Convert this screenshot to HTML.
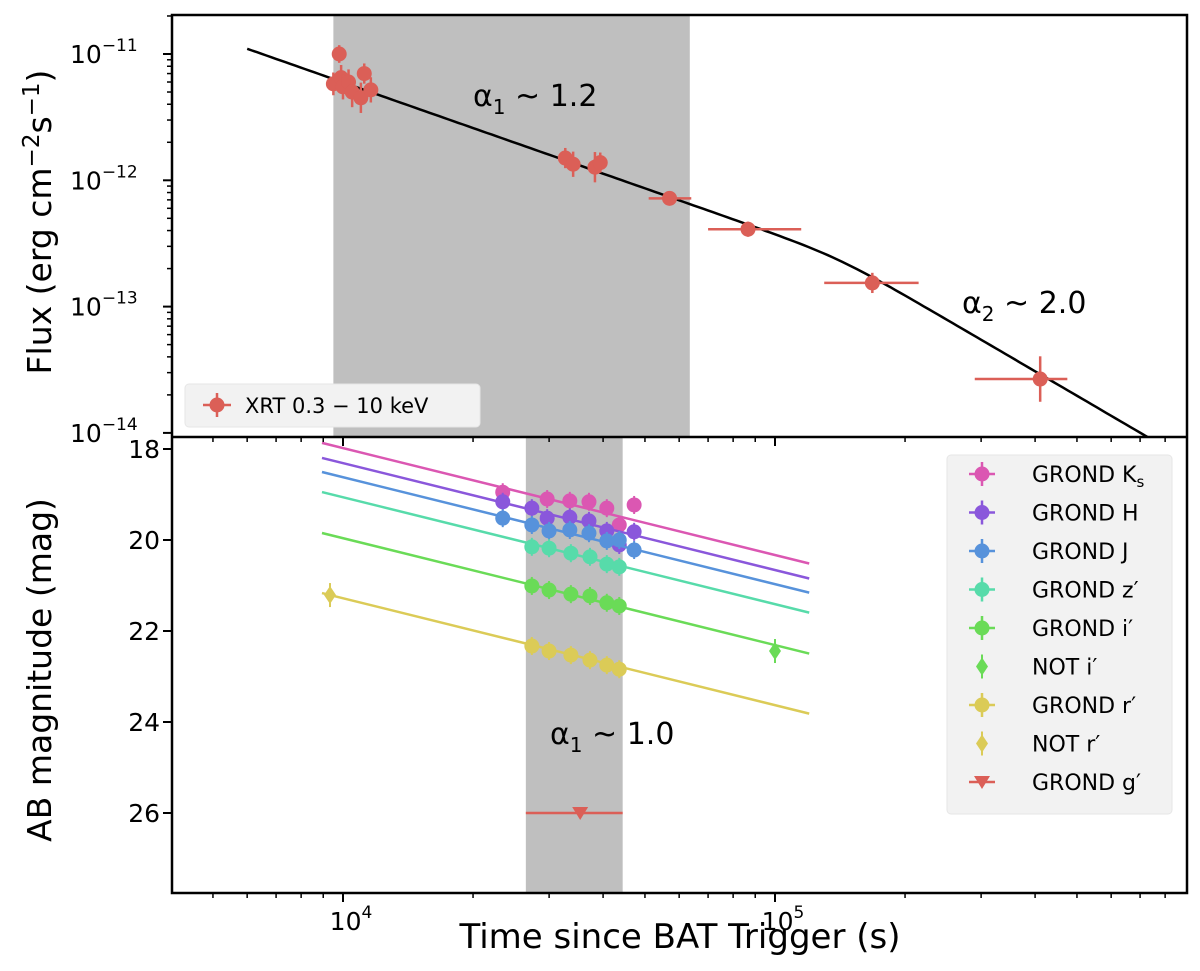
<!DOCTYPE html>
<html><head><meta charset="utf-8"><style>
html,body{margin:0;padding:0;background:#fff;}
svg text{font-family:"DejaVu Sans","Liberation Sans",sans-serif;}
</style></head><body>
<svg id="chart" width="1200" height="966" viewBox="0 0 1200 966" xmlns="http://www.w3.org/2000/svg">
<defs>
<clipPath id="ct"><rect x="172" y="15" width="1015" height="422"/></clipPath>
<clipPath id="cb"><rect x="172" y="437" width="1015" height="456"/></clipPath>
</defs>
<g id="topPanel" clip-path="url(#ct)"></g>
<g id="botPanel" clip-path="url(#cb)"></g>
<g id="axes"></g>
</svg>
<script>
// ---- data ----
const xrtTime = [9500, 9800, 9900, 10000, 10300, 10500, 11000, 11200, 11600, 32700, 34100, 38300, 39400, 57000, 86600, 168000, 411000];
const xrtFlux = [5.8e-12, 1.0e-11, 6.5e-12, 5.5e-12, 6.0e-12, 5.0e-12, 4.5e-12, 7.0e-12, 5.2e-12, 1.5e-12, 1.34e-12, 1.27e-12, 1.38e-12, 7.2e-13, 4.1e-13, 1.54e-13, 2.67e-14];
const xrtTlo = [9400, 9700, 9800, 9900, 10200, 10400, 10900, 11100, 11500, 32200, 33600, 37800, 38900, 51000, 70000, 130000, 290000];
const xrtThi = [9600, 9900, 10000, 10100, 10400, 10600, 11100, 11300, 11700, 33200, 34600, 38800, 39900, 64000, 115000, 215000, 475000];
const xrtFerr = [0.09, 0.07, 0.1, 0.1, 0.1, 0.12, 0.12, 0.08, 0.1, 0.08, 0.1, 0.12, 0.08, 0.04, 0.06, 0.08, 0.18];
const bplNorm = 1.1e-11, bplT0 = 6000, bplAlpha1 = 1.2, bplAlpha2 = 2.0, bplBreak = 140000;
const xrtShade = [9500, 63500];
const optShade = [26500, 44400];
const bandNames = ["GROND Ks", "GROND H", "GROND J", "GROND z'", "GROND i'", "GROND r'"];
const bandColors = ["#db57b2", "#8a57db", "#5792db", "#57dbaa", "#6adb57", "#dbcb57"];
const bandMag1e4 = [17.98, 18.31, 18.62, 19.06, 19.96, 21.28];
const optAlpha = 0.94;
const ksTime = [23430, 29690, 33500, 37100, 40800, 43600, 47200];
const ksMag = [18.95, 19.10, 19.14, 19.16, 19.30, 19.67, 19.23];
const hTime = [23430, 27360, 29690, 33500, 37100, 40800, 43600, 47200];
const hMag = [19.16, 19.30, 19.52, 19.50, 19.58, 19.80, 20.11, 19.82];
const jTime = [23430, 27360, 29990, 33500, 37100, 40800, 43600, 47200];
const jMag = [19.52, 19.67, 19.80, 19.78, 19.85, 20.02, 20.0, 20.22];
const zTime = [27360, 29990, 33690, 37300, 40800, 43600];
const zMag = [20.15, 20.18, 20.29, 20.37, 20.53, 20.59];
const iTime = [27360, 29990, 33690, 37300, 40800, 43600];
const iMag = [21.01, 21.10, 21.19, 21.23, 21.38, 21.45];
const rTime = [27360, 29990, 33690, 37300, 40800, 43600];
const rMag = [22.33, 22.44, 22.53, 22.64, 22.75, 22.84];
const notITime = [100000], notIMag = [22.44];
const notRTime = [9330], notRMag = [21.21];
const gTime = [35400], gMag = [26.0], gTlo = [26500], gThi = [44400];
const xTickVals = [1e4, 1e5];
const xTickLabels = ["4", "5"];
const fluxTickExp = [-11, -12, -13, -14];
const magTicks = [18, 20, 22, 24, 26];

// ---- scales ----
const L = 172, R = 1187, TT = 15, TB = 437, BB = 893;
const X = t => 343 + 432 * Math.log10(t / 1e4);
const YF = f => 54 + 126.3 * (-11 - Math.log10(f));
const YM = m => 449 + (m - 18) * 45.5;
const NS = "http://www.w3.org/2000/svg";
function mk(parent, tag, attrs, text) {
  const e = document.createElementNS(NS, tag);
  for (const k in attrs) e.setAttribute(k, attrs[k]);
  if (text !== undefined) e.textContent = text;
  parent.appendChild(e); return e;
}
const topG = document.getElementById('topPanel');
const botG = document.getElementById('botPanel');
const ax = document.getElementById('axes');

// shades
let sh = mk(topG, 'rect', {x: X(xrtShade[0]), y: TT, width: X(xrtShade[1]) - X(xrtShade[0]), height: TB - TT, fill: '#bfbfbf'});


sh = mk(botG, 'rect', {x: X(optShade[0]), y: TB, width: X(optShade[1]) - X(optShade[0]), height: BB - TB, fill: '#bfbfbf'});



// broken power law
function bplRaw(t) {
  const s = 10;
  const a = Math.pow(t / bplBreak, bplAlpha1 * s), b = Math.pow(t / bplBreak, bplAlpha2 * s);
  return Math.pow(a + b, -1 / s);
}
const fbFix = bplNorm / bplRaw(bplT0);
let d = '';
for (let i = 0; i <= 200; i++) {
  const t = bplT0 * Math.pow(1e6 / bplT0, i / 200);
  d += (i ? 'L' : 'M') + X(t).toFixed(1) + ',' + YF(bplRaw(t) * fbFix).toFixed(1);
}
let e = mk(topG, 'path', {d: d, stroke: '#000', 'stroke-width': 2.5, fill: 'none'});



// xrt points
const xc = '#db5f57';
xrtTime.forEach((t, i) => {
  const g = mk(topG, 'g', {});
  
  
  const y = YF(xrtFlux[i]);
  const up = YF(xrtFlux[i] * Math.pow(10, xrtFerr[i])), dn = YF(xrtFlux[i] / Math.pow(10, xrtFerr[i]));
  mk(g, 'line', {x1: X(xrtTlo[i]), x2: X(xrtThi[i]), y1: y, y2: y, stroke: xc, 'stroke-width': 2.5});
  mk(g, 'line', {x1: X(t), x2: X(t), y1: up, y2: dn, stroke: xc, 'stroke-width': 2.5});
  mk(g, 'circle', {cx: X(t), cy: y, r: 7.5, fill: xc});
});

// optical lines + points
const bandTimes = [ksTime, hTime, jTime, zTime, iTime, rTime];
const bandMags = [ksMag, hMag, jMag, zMag, iMag, rMag];
bandNames.forEach((n, b) => {
  const c = bandColors[b];
  const m = t => bandMag1e4[b] + 2.5 * optAlpha * Math.log10(t / 1e4);
  const ln = mk(botG, 'line', {x1: X(8940), x2: X(120000), y1: YM(m(8940)), y2: YM(m(120000)), stroke: c, 'stroke-width': 2.5});
  
  
  bandTimes[b].forEach((t, i) => {
    const g = mk(botG, 'g', {});
    
    
    const y = YM(bandMags[b][i]);
    mk(g, 'line', {x1: X(t), x2: X(t), y1: y - 9, y2: y + 9, stroke: c, 'stroke-width': 2});
    mk(g, 'circle', {cx: X(t), cy: y, r: 7.5, fill: c});
  });
});
function diamond(g, x, y, c) {
  mk(g, 'path', {d: `M${x},${y - 9}L${x + 6},${y}L${x},${y + 9}L${x - 6},${y}Z`, fill: c});
  mk(g, 'line', {x1: x, x2: x, y1: y - 12, y2: y + 12, stroke: c, 'stroke-width': 2});
}
notITime.forEach((t, i) => {
  const g = mk(botG, 'g', {});
  
  
  diamond(g, X(t), YM(notIMag[i]), '#6adb57');
});
notRTime.forEach((t, i) => {
  const g = mk(botG, 'g', {});
  
  
  diamond(g, X(t), YM(notRMag[i]), '#dbcb57');
});
gTime.forEach((t, i) => {
  const g = mk(botG, 'g', {});
  
  
  const x = X(t), y = YM(gMag[i]);
  mk(g, 'line', {x1: X(gTlo[i]), x2: X(gThi[i]), y1: y, y2: y, stroke: '#db5f57', 'stroke-width': 2.5});
  mk(g, 'path', {d: `M${x - 8},${y - 6}L${x + 8},${y - 6}L${x},${y + 7}Z`, fill: '#db5f57'});
});

// annotations
function txt(p, x, y, s, size, name, anchor) {
  const t = mk(p, 'text', {x: x, y: y, 'font-size': size, 'text-anchor': anchor || 'start', fill: '#000'});
  t.innerHTML = s;
  
  
  return t;
}
txt(ax, 473, 106, 'α<tspan font-size="20" dy="8">1</tspan><tspan dy="-8"> ~ 1.2</tspan>', 30, 'alpha1-xray-label');
txt(ax, 962, 313, 'α<tspan font-size="20" dy="8">2</tspan><tspan dy="-8"> ~ 2.0</tspan>', 30, 'alpha2-xray-label');
txt(ax, 550, 744, 'α<tspan font-size="20" dy="8">1</tspan><tspan dy="-8"> ~ 1.0</tspan>', 30, 'alpha1-optical-label');

// axes frame
mk(ax, 'rect', {x: L, y: TT, width: R - L, height: BB - TT, fill: 'none', stroke: '#000', 'stroke-width': 2.5});
mk(ax, 'line', {x1: L, x2: R, y1: TB, y2: TB, stroke: '#000', 'stroke-width': 2.5});
// x ticks
for (let dec = 3; dec <= 5; dec++) for (let k = 1; k <= 9; k++) {
  const t = k * Math.pow(10, dec), x = X(t);
  if (x < L || x > R) continue;
  const len = k === 1 ? 9 : 5;
  mk(ax, 'line', {x1: x, x2: x, y1: BB, y2: BB + len, stroke: '#000', 'stroke-width': k === 1 ? 2 : 1.5});
  mk(ax, 'line', {x1: x, x2: x, y1: TB, y2: TB + len, stroke: '#000', 'stroke-width': k === 1 ? 2 : 1.5});
}
xTickVals.forEach((t, i) => {
  txt(ax, X(t) + 8, 930, '10<tspan font-size="17" dy="-12">' + xTickLabels[i] + '</tspan>', 25, 'x-tick-label', 'middle');
});
// flux ticks
for (let ex = -15; ex <= -11; ex++) for (let k = 1; k <= 9; k++) {
  const f = k * Math.pow(10, ex), y = YF(f);
  if (y < TT || y > TB) continue;
  mk(ax, 'line', {x1: L - (k === 1 ? 9 : 5), x2: L, y1: y, y2: y, stroke: '#000', 'stroke-width': k === 1 ? 2 : 1.5});
}
fluxTickExp.forEach(ex => {
  txt(ax, 70, YF(Math.pow(10, ex)) + 9, '10<tspan font-size="17" dy="-12">−' + (-ex) + '</tspan>', 25, 'y-tick-label-flux', 'start');
});
// mag ticks
magTicks.forEach(m => {
  mk(ax, 'line', {x1: L - 9, x2: L, y1: YM(m), y2: YM(m), stroke: '#000', 'stroke-width': 2});
  txt(ax, 160, YM(m) + 9, String(m), 25, 'y-tick-label-mag', 'end');
});
// axis titles
txt(ax, 680, 948, 'Time since BAT Trigger (s)', 34, 'x-axis-title', 'middle');
let yt = txt(ax, 0, 0, 'Flux (erg cm<tspan font-size="23" dy="-12">−2</tspan><tspan dy="12">s</tspan><tspan font-size="23" dy="-12">−1</tspan><tspan dy="12">)</tspan>', 33, 'y-axis-title-flux', 'middle');
yt.setAttribute('transform', 'translate(51,222) rotate(-90)');
yt = txt(ax, 0, 0, 'AB magnitude (mag)', 33, 'y-axis-title-magnitude', 'middle');
yt.setAttribute('transform', 'translate(51,670) rotate(-90)');

// top legend
const lg1 = mk(ax, 'g', {});


mk(lg1, 'rect', {x: 185, y: 384, width: 295, height: 43, rx: 4, fill: '#f2f2f2', stroke: '#e6e6e6'});
mk(lg1, 'line', {x1: 203, x2: 231, y1: 405, y2: 405, stroke: xc, 'stroke-width': 2.5});
mk(lg1, 'line', {x1: 217, x2: 217, y1: 393, y2: 417, stroke: xc, 'stroke-width': 2.5});
mk(lg1, 'circle', {cx: 217, cy: 405, r: 7.5, fill: xc});
txt(lg1, 245, 413, 'XRT 0.3 − 10 keV', 21, 'legend-entry-xrt');

// bottom legend
const lg2 = mk(ax, 'g', {});


mk(lg2, 'rect', {x: 947, y: 455, width: 225, height: 359, rx: 4, fill: '#f2f2f2', stroke: '#e6e6e6'});
const legLabels = ['GROND K<tspan font-size="15" dy="5">s</tspan>', 'GROND H', 'GROND J', "GROND z′", "GROND i′", "NOT i′", "GROND r′", "NOT r′", "GROND g′"];
const legColors = ['#db57b2', '#8a57db', '#5792db', '#57dbaa', '#6adb57', '#6adb57', '#dbcb57', '#dbcb57', '#db5f57'];
const legKind = ['c', 'c', 'c', 'c', 'c', 'd', 'c', 'd', 't'];
legLabels.forEach((s, i) => {
  const y = 474 + i * 38.5, x = 982, c = legColors[i];
  if (legKind[i] === 'c') {
    mk(lg2, 'line', {x1: x - 13, x2: x + 13, y1: y, y2: y, stroke: c, 'stroke-width': 2.5});
    mk(lg2, 'line', {x1: x, x2: x, y1: y - 12, y2: y + 12, stroke: c, 'stroke-width': 2.5});
    mk(lg2, 'circle', {cx: x, cy: y, r: 7.5, fill: c});
  } else if (legKind[i] === 'd') {
    diamond(lg2, x, y, c);
  } else {
    mk(lg2, 'line', {x1: x - 13, x2: x + 13, y1: y, y2: y, stroke: c, 'stroke-width': 2.5});
    mk(lg2, 'path', {d: `M${x - 8},${y - 6}L${x + 8},${y - 6}L${x},${y + 7}Z`, fill: c});
  }
  txt(lg2, 1032, y + 8, s, 22, 'legend-entry');
});
</script>
</body></html>
